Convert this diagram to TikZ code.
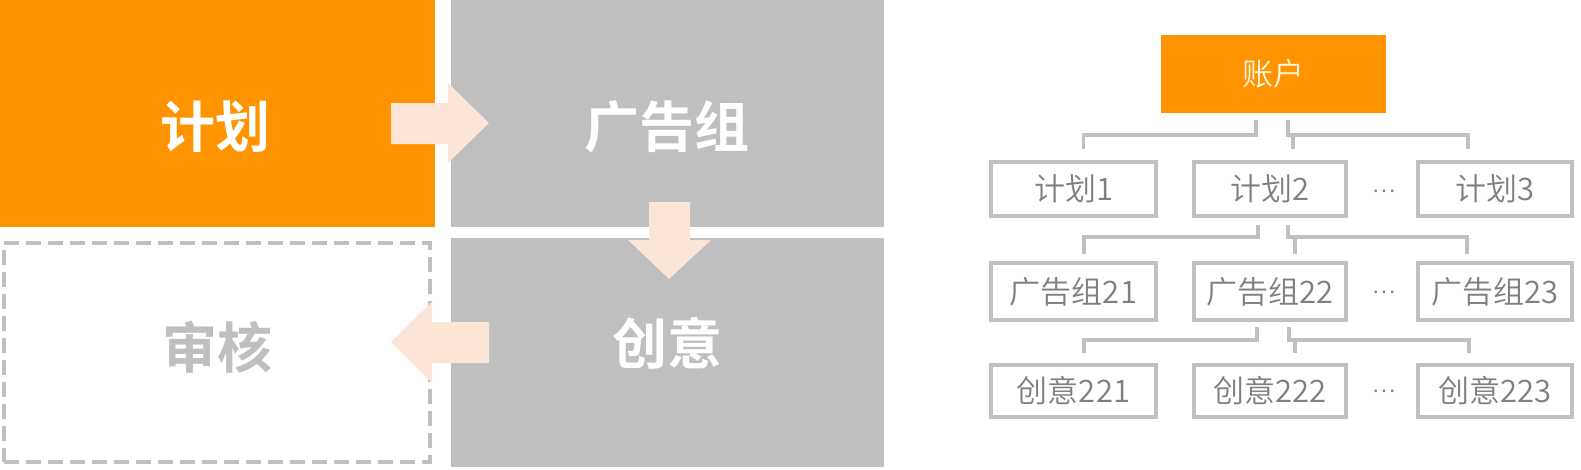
\documentclass[tikz,border=0pt]{standalone}
\usepackage{fontspec}
\newfontfamily\cjkb{Noto Sans CJK SC}[UprightFont={* Bold}]
\newfontfamily\cjkl{Noto Sans CJK SC}[UprightFont={* DemiLight}]
\usetikzlibrary{calc}
\definecolor{orng}{RGB}{255,148,0}
\definecolor{gry}{RGB}{191,191,191}
\definecolor{peach}{RGB}{251,229,214}
\definecolor{txtg}{RGB}{127,127,127}
\definecolor{cream}{RGB}{255,247,228}
\tikzset{
  bigbox/.style={rectangle, inner sep=0pt, outer sep=0pt, draw=none},
  bigtxt/.style={inner sep=0pt, font=\cjkb\fontsize{55}{60}\selectfont},
  tbox/.style={rectangle, draw=gry, line width=4pt, fill=white, inner sep=0pt, outer sep=0pt, minimum height=#1},
  ttxt/.style={inner sep=0pt, text=txtg, font=\cjkl\fontsize{31}{34}\selectfont},
  conn/.style={draw=gry, line width=3.5pt},
  blockarrow/.style={fill=peach, draw=none}
}
\begin{document}
\begin{tikzpicture}[x=1pt,y=-1pt]
\useasboundingbox (0,0) rectangle (1581,469);
% ---- left panel ----
\node[bigbox, fill=orng, minimum width=435pt, minimum height=227pt] (plan) at (217.5,113.5) {};
\node[bigbox, fill=gry, minimum width=433pt, minimum height=227pt] (adg) at (667.5,113.5) {};
\node[bigbox, fill=gry, minimum width=433pt, minimum height=229pt] (cre) at (667.5,352.5) {};
\node[bigbox, draw=gry, line width=4.5pt, dash pattern=on 15pt off 7pt, minimum width=426pt, minimum height=219pt] (rev) at (217,352.5) {};
\node[bigtxt, text=white] (planT) at (215,127) {计划};
\node[bigtxt, text=white] (adgT) at (667,127) {广告组};
\node[bigtxt, text=white] (creT) at (667,343) {创意};
\node[bigtxt, text=gry] (revT) at (217,347) {审核};
% block arrows
\fill[blockarrow] (391,103) -- (448,103) -- (448,83) -- (489,123) -- (448,163) -- (448,144) -- (391,144) -- cycle;
\fill[blockarrow] (649,202) -- (690,202) -- (690,240) -- (711,240) -- (669,279) -- (628,240) -- (649,240) -- cycle;
\fill[blockarrow] (489,322) -- (489,363) -- (432,363) -- (432,383) -- (391,342) -- (432,302) -- (432,322) -- cycle;
% ---- right tree ----
\node[bigbox, fill=orng, minimum width=225pt, minimum height=78pt, text=cream, font=\cjkl\fontsize{31}{34}\selectfont] (acct) at (1273.5,74) {账户};
\node[tbox=54pt, minimum width=165pt] (p1) at (1073.5,189) {};
\node[tbox=54pt, minimum width=152pt] (p2) at (1270,189) {};
\node[tbox=54pt, minimum width=154pt] (p3) at (1495,189) {};
\node[tbox=57pt, minimum width=165pt] (g1) at (1073.5,291.5) {};
\node[tbox=57pt, minimum width=152pt] (g2) at (1270,291.5) {};
\node[tbox=57pt, minimum width=154pt] (g3) at (1495,291.5) {};
\node[tbox=52pt, minimum width=165pt] (c1) at (1073.5,391) {};
\node[tbox=52pt, minimum width=152pt] (c2) at (1270,391) {};
\node[tbox=52pt, minimum width=154pt] (c3) at (1495,391) {};
\node[ttxt] (p1T) at (p1) {计划1};
\node[ttxt] (p2T) at (p2) {计划2};
\node[ttxt] (p3T) at (p3) {计划3};
\node[ttxt] (g1T) at (g1) {广告组21};
\node[ttxt] (g2T) at (g2) {广告组22};
\node[ttxt] (g3T) at (g3) {广告组23};
\node[ttxt] (c1T) at (c1) {创意221};
\node[ttxt] (c2T) at (c2) {创意222};
\node[ttxt] (c3T) at (c3) {创意223};
\node[ttxt, font=\cjkl\fontsize{22}{24}\selectfont] (d1) at (1384,191) {…};
\node[ttxt, font=\cjkl\fontsize{22}{24}\selectfont] (d2) at (1384,292) {…};
\node[ttxt, font=\cjkl\fontsize{22}{24}\selectfont] (d3) at (1384,391) {…};
% connectors: account -> plans
\draw[conn] ([xshift=-17.5pt,yshift=-7pt]acct.south) |- ([xshift=10pt,yshift=27pt]p1.north) -- ([xshift=10pt,yshift=13pt]p1.north);
\draw[conn] ([xshift=14.5pt,yshift=-7pt]acct.south) |- ([xshift=-27pt,yshift=27pt]p3.north) -- ([xshift=-27pt,yshift=13pt]p3.north);
\draw[conn] ([xshift=23pt,yshift=27pt]p2.north) -- ([xshift=23pt,yshift=13pt]p2.north);
% plan2 -> ad groups
\draw[conn] ([xshift=-12pt,yshift=-9pt]p2.south) |- ([xshift=10.5pt,yshift=26pt]g1.north) -- ([xshift=10.5pt,yshift=9pt]g1.north);
\draw[conn] ([xshift=18pt,yshift=-9pt]p2.south) |- ([xshift=-28pt,yshift=26pt]g3.north) -- ([xshift=-28pt,yshift=9pt]g3.north);
\draw[conn] ([xshift=25pt,yshift=26pt]g2.north) -- ([xshift=25pt,yshift=9pt]g2.north);
% ad group 22 -> creatives
\draw[conn] ([xshift=-13pt,yshift=-7pt]g2.south) |- ([xshift=10.5pt,yshift=25pt]c1.north) -- ([xshift=10.5pt,yshift=12pt]c1.north);
\draw[conn] ([xshift=19pt,yshift=-7pt]g2.south) |- ([xshift=-26pt,yshift=25pt]c3.north) -- ([xshift=-26pt,yshift=12pt]c3.north);
\draw[conn] ([xshift=25pt,yshift=25pt]c2.north) -- ([xshift=25pt,yshift=12pt]c2.north);
\end{tikzpicture}
\end{document}
